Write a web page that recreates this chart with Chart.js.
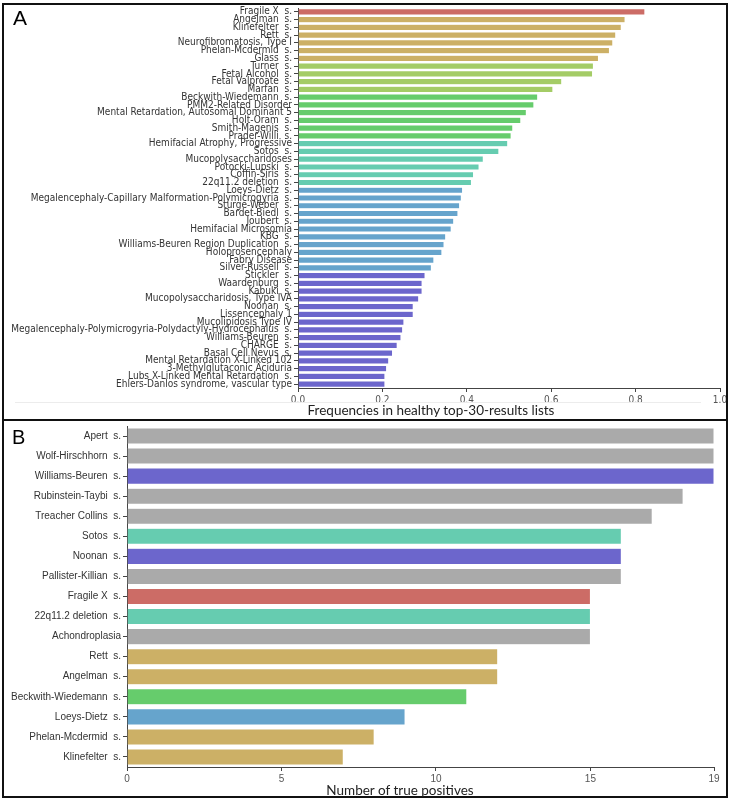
<!DOCTYPE html>
<html>
<head>
<meta charset="utf-8">
<script src="https://cdn.jsdelivr.net/npm/chart.js@4.4.1/dist/chart.umd.min.js"></script>
<style>
html,body{margin:0;padding:0;background:#fff;}
#fig{position:relative;width:734px;height:799px;overflow:hidden;}
canvas{position:absolute;left:0;}
#ca{top:0;}
#cb{top:418px;}
.frame{position:absolute;left:2px;top:3px;width:726px;height:795px;box-sizing:border-box;border:2px solid #111;pointer-events:none;}
.sep{position:absolute;left:3px;top:419px;width:725px;height:2px;background:#111;}
.faint{position:absolute;left:15px;top:402px;width:686px;height:1px;background:#ececec;}
.letter{position:absolute;font-family:'Liberation Sans',Arial,sans-serif;color:#000;line-height:1;}
.ttl{position:absolute;font-family:Lato,'Open Sans',sans-serif;color:#222;white-space:nowrap;transform:translate(-50%,-50%);line-height:1;}
</style>
</head>
<body>
<div id="fig">
  <canvas id="ca" width="734" height="420"></canvas>
  <canvas id="cb" width="734" height="379"></canvas>
  <div class="faint"></div>
  <div class="frame"></div>
  <div class="sep"></div>
  <div class="letter" style="left:13px;top:7px;font-size:21px;">A</div>
  <div class="letter" style="left:12px;top:427px;font-size:20px;">B</div>
  <div class="ttl" id="ta" style="left:431px;top:411px;font-size:13.5px;"></div>
  <div class="ttl" id="tb" style="left:400px;top:791px;font-size:13.5px;"></div>
</div>
<script>
'use strict';

// panel A: frequencies in healthy top-30 lists
const freqLabels = [
  'Fragile X  s.','Angelman  s.','Klinefelter  s.','Rett  s.','Neurofibromatosis, Type I',
  'Phelan-Mcdermid  s.','Glass  s.','Turner  s.','Fetal Alcohol  s.','Fetal Valproate  s.',
  'Marfan  s.','Beckwith-Wiedemann  s.','PMM2-Related Disorder','Mental Retardation, Autosomal Dominant 5','Holt-Oram  s.',
  'Smith-Magenis  s.','Prader-Willi  s.','Hemifacial Atrophy, Progressive','Sotos  s.','Mucopolysaccharidoses',
  'Potocki-Lupski  s.','Coffin-Siris  s.','22q11.2 deletion  s.','Loeys-Dietz  s.','Megalencephaly-Capillary Malformation-Polymicrogyria  s.',
  'Sturge-Weber  s.','Bardet-Biedl  s.','Joubert  s.','Hemifacial Microsomia','KBG  s.',
  'Williams-Beuren Region Duplication  s.','Holoprosencephaly','Fabry Disease','Silver-Russell  s.','Stickler  s.',
  'Waardenburg  s.','Kabuki  s.','Mucopolysaccharidosis, Type IVA','Noonan  s.','Lissencephaly 1',
  'Mucolipidosis Type IV','Megalencephaly-Polymicrogyria-Polydactyly-Hydrocephalus  s.','Williams-Beuren  s.','CHARGE  s.','Basal Cell Nevus  s.',
  'Mental Retardation X-Linked 102','3-Methylglutaconic Aciduria','Lubs X-Linked Mental Retardation  s.','Ehlers-Danlos syndrome, vascular type'
];
const freqValues = [
  0.822,0.775,0.766,0.753,0.746,
  0.738,0.712,0.700,0.698,0.625,
  0.604,0.568,0.559,0.541,0.528,
  0.509,0.505,0.497,0.476,0.439,
  0.429,0.416,0.411,0.390,0.387,
  0.383,0.379,0.369,0.363,0.350,
  0.346,0.341,0.322,0.316,0.301,
  0.294,0.294,0.286,0.273,0.273,
  0.251,0.248,0.244,0.235,0.224,
  0.215,0.210,0.206,0.206
];
const freqGroups = [
  0,1,1,1,1,1,1,2,2,2,2,3,3,3,3,3,3,4,4,4,4,4,4,
  5,5,5,5,5,5,5,5,5,5,5,
  6,6,6,6,6,6,6,6,6,6,6,6,6,6,6
];
const freqTicks = [0,0.2,0.4,0.6,0.8,1.0];

// panel B: number of true positives
const tpLabels = [
  'Apert  s.','Wolf-Hirschhorn  s.','Williams-Beuren  s.','Rubinstein-Taybi  s.','Treacher Collins  s.',
  'Sotos  s.','Noonan  s.','Pallister-Killian  s.','Fragile X  s.','22q11.2 deletion  s.',
  'Achondroplasia','Rett  s.','Angelman  s.','Beckwith-Wiedemann  s.','Loeys-Dietz  s.',
  'Phelan-Mcdermid  s.','Klinefelter  s.'
];
const tpValues = [19,19,19,18,17,16,16,16,15,15,15,12,12,11,9,8,7];
const tpGroups = [7,7,6,7,7,4,6,7,0,4,7,1,1,3,5,1,1];
const tpTicks = [0,5,10,15,19];

const titleA = 'Frequencies in healthy top-30-results lists';
const titleB = 'Number of true positives';

// hls palette, 40 degrees apart, plus grey for syndromes not in A
const palette = [0,1,2,3,4,5,6].map(i => `hsl(${3.6+40*i},50%,60%)`).concat(['#aaaaaa']);

const NARROW = "'Liberation Sans Narrow','Arial Narrow','DejaVu Sans Condensed',sans-serif";
const SANS = "'Liberation Sans',Arial,sans-serif";
const AX = '#444';

document.getElementById('ta').textContent = titleA;
document.getElementById('tb').textContent = titleB;

function barChart(el, o){
  return new Chart(el, {
    type:'bar',
    data:{labels:o.labels, datasets:[{
      data:o.values,
      backgroundColor:o.groups.map(g => palette[g]),
      borderColor:'rgba(255,255,255,0.6)', borderWidth:0.5,
      barPercentage:0.8, categoryPercentage:1
    }]},
    options:{
      indexAxis:'y', responsive:false, animation:false,
      layout:{padding:o.pad},
      plugins:{legend:{display:false}, tooltip:{enabled:false}},
      scales:{
        x:{min:0, max:o.max,
          afterBuildTicks:s => { s.ticks = o.ticks.map(v => ({value:v})); },
          ticks:{callback:o.fmt, font:{family:o.tickFont, size:10}, color:'#555', padding:2},
          grid:{drawOnChartArea:false, tickLength:4, color:AX},
          border:{color:AX},
          afterFit:s => { s.height = o.xh; }},
        y:{
          ticks:{autoSkip:false, font:{family:o.labFont, size:o.labSize}, color:'#333', padding:2},
          grid:{drawOnChartArea:false, offset:false, tickLength:4, color:AX},
          border:{color:AX},
          afterFit:s => { s.width = o.yw; }}
      }
    }
  });
}

barChart(document.getElementById('ca'), {
  labels:freqLabels, values:freqValues, groups:freqGroups, ticks:freqTicks, max:1,
  fmt:v => (+v).toFixed(1), tickFont:NARROW, labFont:NARROW, labSize:10,
  pad:{top:8, right:14, left:0, bottom:0}, xh:32, yw:298
});

barChart(document.getElementById('cb'), {
  labels:tpLabels, values:tpValues, groups:tpGroups, ticks:tpTicks, max:19,
  fmt:v => String(v), tickFont:SANS, labFont:SANS, labSize:10,
  pad:{top:4, right:20, left:0, bottom:0}, xh:30, yw:127
});
</script>
</body>
</html>
